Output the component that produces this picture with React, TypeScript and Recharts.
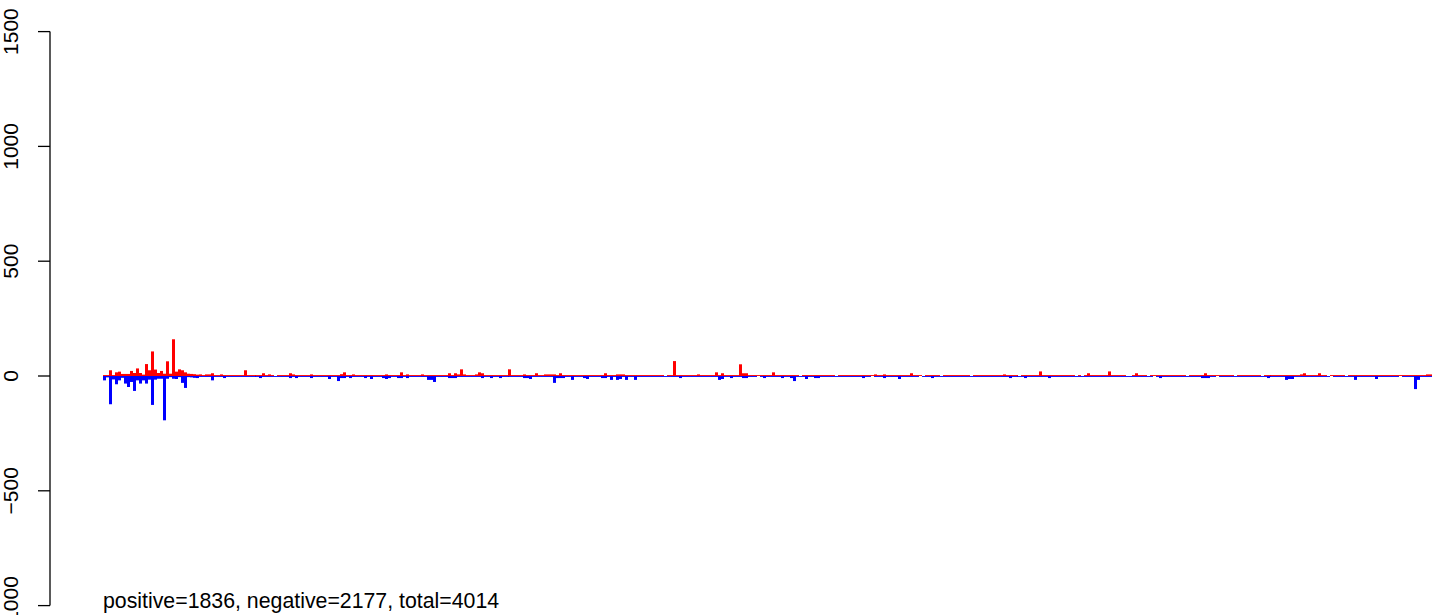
import React from "react";
import { BarChart, Bar, XAxis, YAxis } from "recharts";

// Positive counts per bin (red bars)
const POS_VALUES: number[] = [
  4, 4, 25, 4, 16, 19, 9, 9, 9, 22, 13, 33, 13, 6, 52, 25, 107, 28, 13, 22,
  10, 64, 10, 160, 19, 29, 25, 16, 10, 9, 8, 6, 7, 4, 7, 7, 12, 4, 4, 7,
  4, 4, 4, 4, 4, 4, 4, 25, 4, 4, 4, 4, 4, 12, 4, 7, 4, 0, 4, 4,
  4, 4, 12, 7, 4, 4, 4, 4, 4, 7, 4, 4, 4, 4, 4, 4, 4, 4, 4, 8,
  16, 4, 4, 7, 4, 4, 4, 4, 4, 4, 4, 4, 4, 4, 7, 4, 4, 4, 4, 16,
  4, 7, 4, 4, 4, 4, 7, 4, 4, 4, 4, 4, 4, 4, 4, 12, 4, 12, 7, 29,
  7, 4, 4, 4, 7, 16, 12, 4, 4, 4, 4, 4, 4, 4, 4, 29, 4, 4, 4, 4,
  7, 4, 4, 4, 12, 4, 4, 7, 7, 7, 7, 4, 12, 4, 4, 4, 4, 4, 4, 4,
  4, 4, 4, 4, 4, 4, 4, 12, 4, 4, 4, 7, 7, 7, 4, 4, 4, 4, 4, 4,
  4, 4, 4, 4, 4, 4, 4, 0, 4, 4, 65, 4, 4, 4, 4, 4, 4, 4, 7, 4,
  4, 4, 4, 4, 16, 4, 12, 4, 4, 4, 4, 4, 51, 12, 12, 4, 4, 4, 4, 4,
  4, 4, 4, 16, 4, 4, 4, 4, 4, 4, 4, 4, 0, 4, 4, 4, 4, 4, 4, 4,
  4, 4, 4, 4, 0, 4, 4, 4, 4, 4, 4, 4, 4, 4, 4, 4, 4, 7, 4, 4,
  7, 4, 4, 4, 4, 4, 4, 4, 4, 12, 4, 4, 4, 0, 4, 4, 4, 4, 4, 0,
  4, 4, 4, 4, 4, 4, 4, 4, 4, 0, 4, 4, 4, 4, 4, 4, 4, 4, 4, 4,
  7, 4, 4, 4, 4, 0, 4, 4, 4, 4, 4, 4, 20, 4, 4, 4, 4, 4, 4, 4,
  4, 4, 4, 4, 0, 4, 0, 4, 12, 4, 4, 4, 4, 4, 4, 20, 4, 4, 4, 4,
  4, 0, 0, 4, 12, 4, 4, 4, 0, 4, 4, 4, 4, 4, 4, 4, 4, 4, 4, 4,
  4, 0, 4, 4, 4, 4, 4, 12, 4, 4, 4, 4, 4, 4, 4, 4, 4, 0, 4, 4,
  4, 4, 4, 4, 4, 4, 0, 4, 4, 4, 4, 4, 4, 4, 4, 4, 4, 4, 4, 7,
  12, 4, 4, 4, 4, 12, 4, 4, 0, 4, 4, 4, 4, 4, 0, 4, 4, 4, 4, 4,
  4, 4, 4, 4, 4, 4, 4, 4, 4, 4, 4, 4, 4, 4, 4, 4, 4, 4, 4, 4,
  4, 7, 7,
];

// Negative counts per bin (blue bars, drawn downward)
const NEG_VALUES: number[] = [
  19, 6, 123, 15, 36, 19, 8, 33, 48, 26, 65, 19, 33, 19, 33, 16, 126, 16, 12, 12,
  193, 12, 5, 12, 13, 5, 30, 52, 5, 6, 8, 9, 4, 4, 4, 4, 19, 4, 4, 4,
  9, 4, 4, 4, 4, 4, 4, 4, 4, 4, 4, 4, 9, 4, 4, 4, 4, 4, 4, 4,
  4, 4, 9, 4, 9, 4, 4, 4, 4, 9, 4, 4, 4, 4, 4, 13, 4, 4, 22, 9,
  9, 4, 9, 4, 4, 4, 4, 9, 4, 13, 4, 4, 4, 9, 13, 9, 4, 4, 9, 9,
  4, 9, 4, 4, 4, 4, 4, 4, 17, 17, 26, 4, 4, 4, 4, 9, 9, 9, 4, 4,
  4, 4, 4, 4, 4, 4, 9, 4, 4, 9, 4, 4, 9, 4, 4, 4, 4, 4, 4, 4,
  9, 9, 13, 4, 4, 4, 4, 4, 4, 4, 30, 9, 9, 9, 4, 4, 17, 4, 4, 4,
  9, 13, 4, 4, 4, 4, 9, 9, 4, 17, 4, 17, 13, 4, 17, 4, 4, 17, 4, 4,
  4, 4, 4, 4, 4, 4, 4, 4, 4, 4, 4, 4, 9, 4, 4, 4, 4, 4, 4, 4,
  4, 4, 4, 4, 4, 17, 13, 4, 4, 9, 4, 4, 4, 9, 9, 4, 4, 4, 0, 4,
  9, 4, 4, 4, 4, 4, 9, 4, 4, 9, 22, 4, 4, 4, 13, 4, 4, 9, 9, 4,
  4, 4, 4, 4, 4, 4, 4, 4, 4, 4, 4, 4, 4, 9, 4, 4, 0, 4, 4, 4,
  9, 4, 4, 4, 4, 13, 4, 4, 4, 4, 4, 4, 0, 4, 4, 4, 9, 4, 4, 4,
  4, 4, 4, 4, 4, 4, 4, 4, 4, 4, 4, 4, 4, 4, 4, 4, 4, 4, 4, 4,
  4, 4, 9, 4, 4, 4, 4, 9, 4, 4, 4, 4, 4, 4, 4, 9, 4, 4, 4, 4,
  4, 4, 4, 4, 4, 4, 4, 4, 4, 4, 4, 4, 4, 4, 4, 4, 4, 4, 4, 4,
  4, 4, 4, 4, 4, 4, 4, 4, 4, 4, 0, 4, 9, 4, 4, 4, 4, 4, 4, 4,
  4, 4, 4, 4, 4, 4, 9, 9, 9, 4, 4, 0, 4, 4, 4, 4, 4, 4, 4, 4,
  4, 4, 4, 4, 4, 4, 4, 4, 9, 4, 4, 4, 4, 4, 17, 13, 13, 4, 4, 4,
  4, 4, 4, 4, 4, 4, 4, 4, 4, 0, 4, 4, 4, 4, 4, 4, 4, 17, 4, 4,
  4, 4, 4, 4, 13, 4, 4, 4, 4, 4, 4, 4, 0, 4, 4, 4, 4, 57, 17, 4,
  4, 4, 4,
];

const Y_TICKS: number[] = [-1000, -500, 0, 500, 1000, 1500];
const Y_DOMAIN: [number, number] = [-1000, 1500];
const SUMMARY_TEXT = "positive=1836, negative=2177, total=4014";

const FONT = '"Liberation Sans", Arial, Helvetica, sans-serif';

const data = POS_VALUES.map((p, i) => ({
  bin: String(i + 1),
  pos: p,
  neg: -(NEG_VALUES[i] ?? 0),
}));

const fmt = (v: number) => (v < 0 ? "\u2212" + Math.abs(v) : String(v));

const YTick = (props: any) => {
  const { y, payload } = props;
  const lx = 18;
  return (
    <text
      x={lx}
      y={y}
      transform={`rotate(-90 ${lx} ${y})`}
      textAnchor="middle"
      fontSize={21}
      fontFamily={FONT}
      fill="#000"
    >
      {fmt(payload.value)}
    </text>
  );
};

export default function App() {
  return (
    <div style={{ position: "absolute", left: 0, top: 0, width: 1441, height: 615, background: "#fff", overflow: "hidden" }}>
      <BarChart
        width={1441}
        height={615}
        data={data}
        margin={{ top: 31.6, right: 9, bottom: 9.4, left: 0 }}
        barCategoryGap={0}
        barGap={0}
        stackOffset="sign"
      >
        <XAxis dataKey="bin" type="category" hide padding={{ left: 53, right: 0 }} />
        <YAxis
          width={50}
          domain={Y_DOMAIN}
          ticks={Y_TICKS}
          allowDataOverflow
          tickSize={12}
          tick={<YTick />}
          axisLine={{ stroke: "#000", strokeWidth: 1.3 }}
          tickLine={{ stroke: "#000", strokeWidth: 1.3 }}
        />
        <Bar dataKey="pos" stackId="a" fill="#ff0000" isAnimationActive={false} />
        <Bar dataKey="neg" stackId="a" fill="#0000ff" isAnimationActive={false} />
      </BarChart>
      <div
        style={{
          position: "absolute",
          left: 103,
          top: 591,
          fontFamily: FONT,
          fontSize: 21.3,
          lineHeight: "21px",
          whiteSpace: "nowrap",
          color: "#000",
        }}
      >
        {SUMMARY_TEXT}
      </div>
    </div>
  );
}
